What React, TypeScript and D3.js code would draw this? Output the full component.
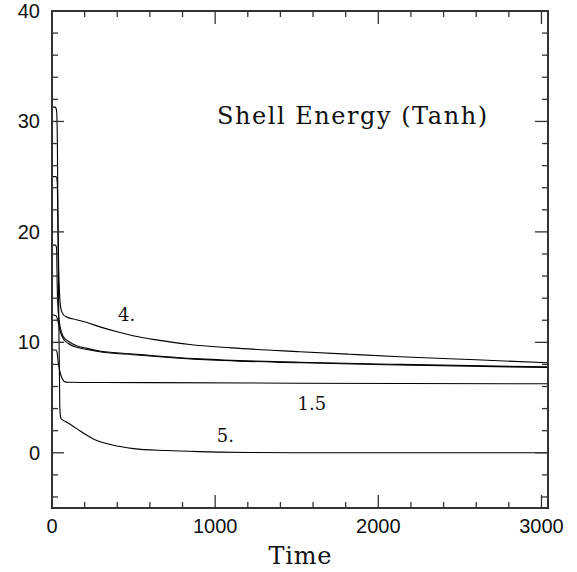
import React from "react";
import * as d3 from "d3";

const W = 577;
const H = 572;

// Time samples and energies for each run
const t4 = [0, 20, 28, 33, 36, 40, 46, 55, 70, 90, 150, 214, 294, 400, 496, 650, 845, 1100, 1519, 1825, 2131, 2600, 3040];
const e4 = [31.3, 31.3, 31.0, 28, 22, 17.5, 14.5, 13.0, 12.5, 12.3, 12.05, 11.8, 11.4, 10.95, 10.6, 10.2, 9.8, 9.5, 9.15, 8.92, 8.7, 8.42, 8.15];

const tA = [0, 22, 28, 32, 38, 50, 70, 100, 150, 214, 300, 496, 906, 1519, 2131, 3040];
const eA = [18.8, 18.8, 18.5, 15, 12.8, 11.4, 10.5, 10.1, 9.7, 9.45, 9.2, 8.95, 8.5, 8.2, 8.0, 7.78];

const tB = [0, 25, 35, 50, 70, 100, 150, 214, 300, 496, 906, 1519, 2131, 3040];
const eB = [12.5, 12.4, 12.0, 11.0, 10.3, 9.9, 9.55, 9.35, 9.12, 8.88, 8.45, 8.15, 7.95, 7.72];

const t15 = [0, 25, 32, 38, 45, 55, 67, 80, 100, 200, 600, 1500, 3040];
const e15 = [9.3, 9.3, 9.0, 8.2, 7.6, 7.0, 6.6, 6.42, 6.38, 6.37, 6.35, 6.3, 6.25];

const t5 = [0, 25, 32, 40, 48, 55, 80, 120, 170, 260, 370, 500, 700, 900, 1200, 1600, 3040];
const e5 = [25.0, 25.0, 24.5, 15, 4.0, 3.1, 2.85, 2.5, 2.0, 1.2, 0.7, 0.38, 0.2, 0.1, 0.03, 0.0, 0.0];

const series = [
  { t: t4, e: e4 },
  { t: tA, e: eA },
  { t: tB, e: eB },
  { t: t15, e: e15 },
  { t: t5, e: e5 },
];

const xMajor = [0, 1000, 2000, 3000];
const xMinor = d3.range(200, 3040, 200).filter((v) => v % 1000 !== 0);
const yMajor = [0, 10, 20, 30, 40];
const yMinor = d3.range(-4, 40, 2).filter((v) => v % 10 !== 0);

const curveLabels = [
  { text: "4.", t: 405, e: 11.9 },
  { text: "1.5", t: 1505, e: 3.9 },
  { text: "5.", t: 1010, e: 0.95 },
];

export default function App() {
  const left = 52, right = 548, top = 11, bottom = 508;
  const x = d3.scaleLinear().domain([0, 3040]).range([left, right]);
  const y = d3.scaleLinear().domain([-5, 40]).range([bottom, top]);
  const line = d3
    .line<[number, number]>()
    .x((d) => x(d[0]))
    .y((d) => y(d[1]))
    .curve(d3.curveMonotoneX);

  const tickFont = "'Liberation Sans', Arial, Helvetica, sans-serif";
  const serif = "'DejaVu Serif', 'Liberation Serif', serif";
  const axisColor = "#333";

  return (
    <div style={{ position: "absolute", left: 0, top: 0 }}>
      <svg width={W} height={H} style={{ display: "block", background: "#fff" }}>
        <g fill="none" stroke="#000" strokeWidth={1.1}>
          {series.map((s, i) => (
            <path key={i} d={line(s.t.map((tt, j) => [tt, s.e[j]]) as [number, number][]) || ""} />
          ))}
        </g>
        {/* frame */}
        <rect x={left} y={top} width={right - left} height={bottom - top} fill="none" stroke={axisColor} strokeWidth={2} />
        {/* ticks */}
        <g stroke={axisColor} strokeWidth={1.3}>
          {xMajor.map((v) => (
            <g key={"xm" + v}>
              <line x1={x(v)} x2={x(v)} y1={bottom} y2={bottom - 13} />
              <line x1={x(v)} x2={x(v)} y1={top} y2={top + 13} />
            </g>
          ))}
          {xMinor.map((v) => (
            <g key={"xn" + v}>
              <line x1={x(v)} x2={x(v)} y1={bottom} y2={bottom - 6} />
              <line x1={x(v)} x2={x(v)} y1={top} y2={top + 6} />
            </g>
          ))}
          {yMajor.map((v) => (
            <g key={"ym" + v}>
              <line x1={left} x2={left + 12} y1={y(v)} y2={y(v)} />
              <line x1={right} x2={right - 13} y1={y(v)} y2={y(v)} />
            </g>
          ))}
          {yMinor.map((v) => (
            <g key={"yn" + v}>
              <line x1={left} x2={left + 6} y1={y(v)} y2={y(v)} />
              <line x1={right} x2={right - 6} y1={y(v)} y2={y(v)} />
            </g>
          ))}
        </g>
        {/* tick labels */}
        <g fontFamily={tickFont} fontSize={20} fill="#111">
          {xMajor.map((v) => (
            <text key={"xl" + v} x={x(v)} y={533} textAnchor="middle">
              {v}
            </text>
          ))}
          {yMajor.map((v) => (
            <text key={"yl" + v} x={40} y={y(v) + 7} textAnchor="end">
              {v}
            </text>
          ))}
        </g>
        <text x={300} y={564} textAnchor="middle" fontFamily={serif} fontSize={24} fill="#111" textLength={63} lengthAdjust="spacing">
          Time
        </text>
        <text x={217} y={124} fontFamily={serif} fontSize={24} fill="#111" textLength={270} lengthAdjust="spacing">
          Shell Energy (Tanh)
        </text>
        <g fontFamily={serif} fontSize={18} fill="#111">
          {curveLabels.map((l) => (
            <text key={l.text} x={x(l.t)} y={y(l.e)}>
              {l.text}
            </text>
          ))}
        </g>
      </svg>
    </div>
  );
}
